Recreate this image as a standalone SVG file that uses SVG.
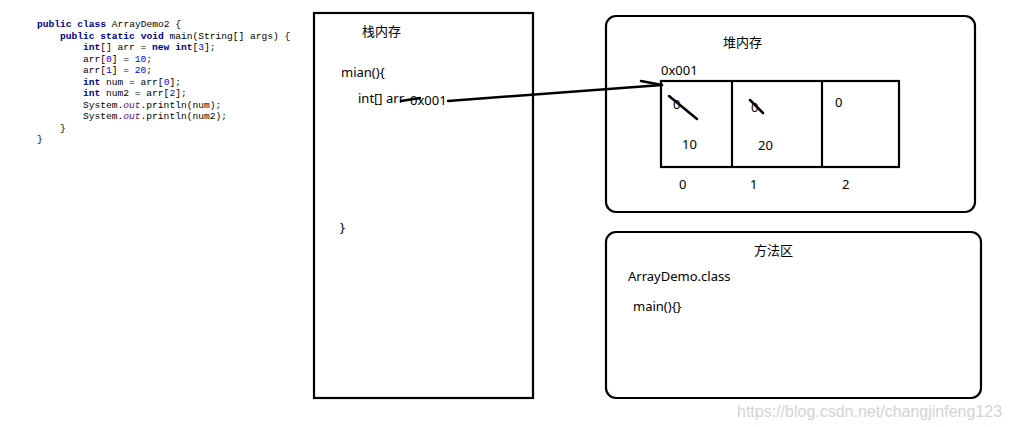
<svg xmlns="http://www.w3.org/2000/svg" width="1010" height="427" viewBox="0 0 1010 427">
<style>
.code{font-family:"Liberation Mono",monospace;font-size:9.6px;fill:#000}
.kw{fill:#00008b;font-weight:bold}
.num{fill:#0000ff}
.fld{fill:#660e7a;font-style:italic}
.t{font-family:"Noto Sans","Open Sans",sans-serif;font-size:13px;fill:#000}
.cn{font-family:"Noto Sans","Noto Sans CJK SC",sans-serif;font-size:13px;fill:#000}
.box{fill:none;stroke:#000;stroke-width:2.2}
.ln{stroke:#000;stroke-width:2.5;fill:none;stroke-linecap:round}
</style>
<rect width="1010" height="427" fill="#fff"/>
<g id="code">
<text class="code" x="37" y="27"><tspan class="kw">public</tspan> <tspan class="kw">class</tspan> ArrayDemo2 {</text>
<text class="code" x="60" y="38.5"><tspan class="kw">public</tspan> <tspan class="kw">static</tspan> <tspan class="kw">void</tspan> main(String[] args) {</text>
<text class="code" x="83" y="50"><tspan class="kw">int</tspan>[] arr = <tspan class="kw">new</tspan> <tspan class="kw">int</tspan>[<tspan class="num">3</tspan>];</text>
<text class="code" x="83" y="61.5">arr[<tspan class="num">0</tspan>] = <tspan class="num">10</tspan>;</text>
<text class="code" x="83" y="73">arr[<tspan class="num">1</tspan>] = <tspan class="num">20</tspan>;</text>
<text class="code" x="83" y="84.5"><tspan class="kw">int</tspan> num = arr[<tspan class="num">0</tspan>];</text>
<text class="code" x="83" y="96"><tspan class="kw">int</tspan> num2 = arr[<tspan class="num">2</tspan>];</text>
<text class="code" x="83" y="107.5">System.<tspan class="fld">out</tspan>.println(num);</text>
<text class="code" x="83" y="119">System.<tspan class="fld">out</tspan>.println(num2);</text>
<text class="code" x="60" y="130.5">}</text>
<text class="code" x="37" y="142">}</text>
</g>
<g id="stack">
<rect class="box" x="314" y="13" width="219" height="385"/>
<text class="cn" x="362" y="36">栈内存</text>
<text class="t" x="341" y="77">mian(){</text>
<text class="t" x="358" y="103">int[] arr</text>
<text class="t" x="410" y="105">0x001</text>
<text class="t" x="340" y="232">}</text>
</g>
<g id="heap">
<rect class="box" x="606" y="16" width="369" height="196" rx="10"/>
<text class="cn" x="723" y="47">堆内存</text>
<text class="t" x="661" y="75">0x001</text>
<rect class="box" x="661" y="81" width="238" height="86"/>
<line class="box" x1="732" y1="81" x2="732" y2="167"/>
<line class="box" x1="822" y1="81" x2="822" y2="167"/>
<text class="t" x="673" y="109">0</text>
<text class="t" x="682" y="149">10</text>
<text class="t" x="751" y="112">0</text>
<text class="t" x="758" y="150">20</text>
<text class="t" x="835" y="107">0</text>
<line class="ln" x1="669" y1="96" x2="697" y2="119"/>
<line class="ln" x1="750" y1="100" x2="763" y2="113"/>
<text class="t" x="679" y="189">0</text>
<text class="t" x="750" y="189">1</text>
<text class="t" x="842" y="189">2</text>
</g>
<g id="method">
<rect class="box" x="606" y="232" width="375" height="166" rx="10"/>
<text class="cn" x="754" y="255">方法区</text>
<text class="t" x="628" y="281">ArrayDemo.class</text>
<text class="t" x="633" y="311">main(){}</text>
</g>
<g id="connectors">
<polyline class="ln" points="448,101 662,85"/>
<line class="ln" x1="641" y1="81" x2="662" y2="85"/>
<line class="ln" x1="401" y1="101" x2="420" y2="98"/>
</g>
<text x="737" y="417" font-family="Liberation Sans,Arial,sans-serif" font-size="16" fill="#d4d4d4">https://blog.csdn.net/changjinfeng123</text>
</svg>
